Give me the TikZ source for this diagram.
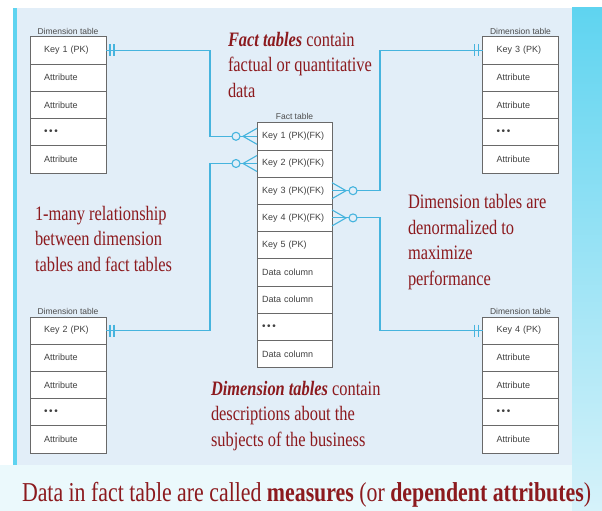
\documentclass[tikz,border=0pt]{standalone}
\usepackage{fontspec}
\setmainfont{Liberation Serif}
\setsansfont{Liberation Sans}
\newfontfamily\slidefont[FakeStretch=0.8]{Liberation Serif}
\usetikzlibrary{positioning}

\definecolor{panel}{RGB}{226,238,248}
\definecolor{linkblue}{RGB}{70,180,222}
\definecolor{cellgray}{RGB}{105,105,105}
\definecolor{slidered}{RGB}{140,26,30}
\definecolor{stripcyan}{RGB}{95,212,240}
\definecolor{strippale}{RGB}{214,242,250}

\newcommand{\dotrow}{{\fontsize{10}{10}\selectfont\textbullet\,\textbullet\,\textbullet}}

\tikzset{
    conn/.style={draw=linkblue, line width=1.1pt},
    manyend/.pic={
        \draw[conn] (0,-8) -- (-14,0) -- (0,8);
        \draw[conn, fill=panel] (-21,0) circle (4pt);
    },
    oneend/.pic={
        \draw[conn] (4,-6) -- (4,6) (8,-6) -- (8,6);
    }
}

\begin{document}
\begin{tikzpicture}[x=1pt, y=-1pt,
    every node/.style={inner sep=0pt, outer sep=0pt},
    dimcell/.style={
        draw=cellgray,
        fill=white,
        line width=.8pt,
        minimum height=27.2pt,
        text width=48pt,
        inner xsep=14pt,
        align=left,
        text=black!75,
        font=\sffamily\fontsize{9}{10}\selectfont},
    factcell/.style={dimcell, text width=65pt, inner xsep=5pt},
    tabletitle/.style={text=black!70, font=\sffamily\fontsize{8.5}{9}\selectfont},
    note/.style={
        align=left,
        text=slidered,
        font=\slidefont\fontsize{20.5}{25.5}\selectfont}]

    \useasboundingbox (0,0) rectangle (602,511);

    % slide background
    \fill[white] (0,0) rectangle (602,511);
    \fill[strippale!50!white] (0,465) rectangle (602,511);
    \fill[panel] (14,8) rectangle (572,465);
    \fill[stripcyan] (13,8) rectangle (17,465);
    \shade[top color=stripcyan, bottom color=strippale] (572,8) rectangle (602,511);

    % dimension table, key 1
    \node[dimcell] (d1key) at (68,50.5) {Key 1 (PK)};
    \node[dimcell, below=0pt of d1key] (d1r2) {Attribute};
    \node[dimcell, below=0pt of d1r2] (d1r3) {Attribute};
    \node[dimcell, below=0pt of d1r3] (d1r4) {\dotrow};
    \node[dimcell, below=0pt of d1r4] (d1r5) {Attribute};
    \node[tabletitle, above=2.5pt of d1key] (d1title) {Dimension table};

    % dimension table, key 2
    \node[dimcell] (d2key) at (68,330.5) {Key 2 (PK)};
    \node[dimcell, below=0pt of d2key] (d2r2) {Attribute};
    \node[dimcell, below=0pt of d2r2] (d2r3) {Attribute};
    \node[dimcell, below=0pt of d2r3] (d2r4) {\dotrow};
    \node[dimcell, below=0pt of d2r4] (d2r5) {Attribute};
    \node[tabletitle, above=2.5pt of d2key] (d2title) {Dimension table};

    % dimension table, key 3
    \node[dimcell] (d3key) at (520.5,50.5) {Key 3 (PK)};
    \node[dimcell, below=0pt of d3key] (d3r2) {Attribute};
    \node[dimcell, below=0pt of d3r2] (d3r3) {Attribute};
    \node[dimcell, below=0pt of d3r3] (d3r4) {\dotrow};
    \node[dimcell, below=0pt of d3r4] (d3r5) {Attribute};
    \node[tabletitle, above=2.5pt of d3key] (d3title) {Dimension table};

    % dimension table, key 4
    \node[dimcell] (d4key) at (520.5,330.5) {Key 4 (PK)};
    \node[dimcell, below=0pt of d4key] (d4r2) {Attribute};
    \node[dimcell, below=0pt of d4r2] (d4r3) {Attribute};
    \node[dimcell, below=0pt of d4r3] (d4r4) {\dotrow};
    \node[dimcell, below=0pt of d4r4] (d4r5) {Attribute};
    \node[tabletitle, above=2.5pt of d4key] (d4title) {Dimension table};

    % fact table
    \node[factcell] (f1) at (294.5,136.3) {Key 1 (PK)(FK)};
    \node[factcell, below=0pt of f1] (f2) {Key 2 (PK)(FK)};
    \node[factcell, below=0pt of f2] (f3) {Key 3 (PK)(FK)};
    \node[factcell, below=0pt of f3] (f4) {Key 4 (PK)(FK)};
    \node[factcell, below=0pt of f4] (f5) {Key 5 (PK)};
    \node[factcell, below=0pt of f5] (f6) {Data column};
    \node[factcell, below=0pt of f6] (f7) {Data column};
    \node[factcell, below=0pt of f7] (f8) {\dotrow};
    \node[factcell, below=0pt of f8] (f9) {Data column};
    \node[tabletitle, above=3.5pt of f1] (ftitle) {Fact table};

    % relationships
    \draw[conn] (d1key.east) -- ++(104,0) |- (f1.west);
    \draw[conn] (d2key.east) -- ++(104,0) |- (f2.west);
    \draw[conn] (d3key.west) -- ++(-102.5,0) |- (f3.east);
    \draw[conn] (d4key.west) -- ++(-102.5,0) |- (f4.east);

    \pic at (d1key.east) {oneend};
    \pic at (d2key.east) {oneend};
    \pic[xscale=-1] at (d3key.west) {oneend};
    \pic[xscale=-1] at (d4key.west) {oneend};
    \pic at (f1.west) {manyend};
    \pic at (f2.west) {manyend};
    \pic[xscale=-1] at (f3.east) {manyend};
    \pic[xscale=-1] at (f4.east) {manyend};

    % remarks (base = last line)
    \node[note, anchor=base west] (facttext) at (228,97)
        {\textbf{\textit{Fact tables}} contain\\factual or quantitative\\data};
    \node[note, anchor=base west] (onemany) at (35,271)
        {1-many relationship\\between dimension\\tables and fact tables};
    \node[note, anchor=base west] (denorm) at (408,285)
        {Dimension tables are\\denormalized to\\maximize\\performance};
    \node[note, anchor=base west] (dimtext) at (211,446)
        {\textbf{\textit{Dimension tables}} contain\\descriptions about the\\subjects of the business};
    \node[note, anchor=base west, font=\slidefont\fontsize{27.3}{30}\selectfont] (measures) at (22,501)
        {Data in fact table are called \textbf{measures} (or \textbf{dependent attributes})};
\end{tikzpicture}
\end{document}
